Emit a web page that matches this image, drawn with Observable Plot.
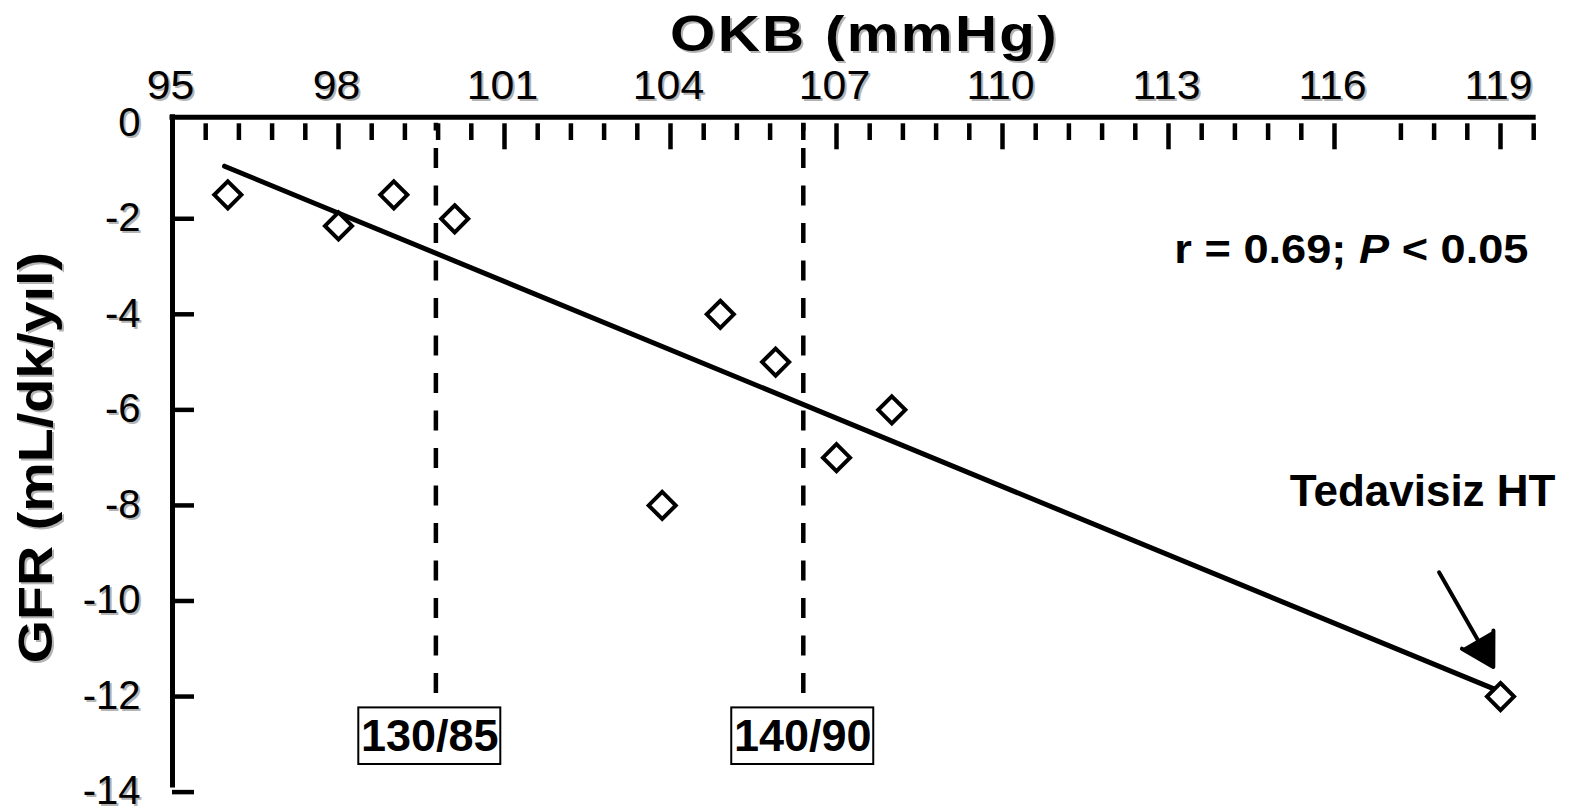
<!DOCTYPE html>
<html><head><meta charset="utf-8">
<script src="https://cdn.jsdelivr.net/npm/d3@7"></script>
<script src="https://cdn.jsdelivr.net/npm/@observablehq/plot@0.6"></script>
<style>body{margin:0;background:#fff;}</style>
</head><body><div id="chart"></div>
<script>
// ---- data ----
const okb = [96, 98, 99, 100.1, 104.9, 105.9, 108, 107, 103.85, 119];
const gfr = [-1.5, -2.15, -1.5, -2, -4, -5, -6, -7, -8, -12];
const fitOkb = [95.94, 118.88];
const fitGfr = [-0.9, -11.84];
const cutoffOkb = [99.76, 106.4];
const cutoffBottom = -12.23;
const cutoffLabels = ["130/85", "140/90"];
const labelOkb = [99.65, 106.39];
const labelGfr = -12.83;
const xTickLabels = [95, 98, 101, 104, 107, 110, 113, 116, 119];
const xMajorTicks = [98, 101, 104, 107, 110, 113, 116, 119];
const xMinorTicks = [95.6, 96.2, 96.8, 97.4, 98.6, 99.2, 99.8, 100.4, 101.6, 102.2, 102.8, 103.4,
  104.6, 105.2, 105.8, 106.4, 107.6, 108.2, 108.8, 109.4, 110.6, 111.2, 111.8, 112.4,
  113.6, 114.2, 114.8, 115.4, 117.2, 117.8, 118.4, 119.6];
const yTickLabels = [0, -2, -4, -6, -8, -10, -12, -14];
const yTickMarks = [-2, -4, -6, -8, -10, -12, -14];
const xAxisExtent = [95, 119.6];
const yAxisExtent = [-13.86, 0.125];
const arrowFrom = [117.89, -9.40];
const arrowTo = [118.87, -11.38];
const title = "OKB (mmHg)";
const yTitle = "GFR (mL/dk/yıl)";
const statText = "r = 0.69; P < 0.05";
const noteText = "Tedavisiz HT";

const points = okb.map((x, i) => ({x, y: gfr[i]}));
const fit = fitOkb.map((x, i) => ({x, y: fitGfr[i]}));
const boxes = cutoffLabels.map((t, i) => ({t, x: labelOkb[i], y: labelGfr}));
const arrowData = [{x1: arrowFrom[0], y1: arrowFrom[1], x2: arrowTo[0], y2: arrowTo[1]}];

const FONT = "'Liberation Sans', Arial, Helvetica, sans-serif";
const shadow = "#b4b4b4";

const chart = Plot.plot({
  width: 1573, height: 809,
  marginLeft: 172, marginRight: 73, marginTop: 122.7, marginBottom: 17.4,
  x: {domain: [95, 119], axis: null},
  y: {domain: [-14, 0], axis: null},
  style: {fontFamily: FONT, background: "white", color: "black", overflow: "visible"},
  marks: [
    // axis lines
    Plot.ruleY([yAxisExtent[1]], {x1: xAxisExtent[0], x2: xAxisExtent[1], strokeWidth: 5, strokeLinecap: "square"}),
    Plot.ruleX([xAxisExtent[0]], {y1: yAxisExtent[0], y2: yAxisExtent[1], strokeWidth: 5, strokeLinecap: "square"}),
    // x ticks (pointing down from the top axis)
    Plot.tickX(xMinorTicks, {x: d => d, strokeWidth: 4.5, insetTop: 0.6, insetBottom: 651.6}),
    Plot.tickX(xMajorTicks, {x: d => d, strokeWidth: 4.5, insetTop: 0.6, insetBottom: 642.3}),
    // y ticks (pointing right)
    Plot.tickY(yTickMarks, {y: d => d, strokeWidth: 4.5, insetLeft: 0, insetRight: 1306}),
    // cutoff dashed lines
    Plot.ruleX(cutoffOkb, {x: d => d, y1: 0, y2: cutoffBottom, strokeWidth: 4.5,
      strokeDasharray: "20 17.5", strokeDashoffset: 12.2}),
    // label boxes
    Plot.rect(boxes, {x1: "x", x2: "x", y1: "y", y2: "y", insetLeft: -71, insetRight: -71,
      insetTop: -28.3, insetBottom: -28.3, fill: "white", stroke: "black", strokeWidth: 2}),
    Plot.text(boxes, {x: "x", y: "y", text: "t", fontSize: 45, fontWeight: "bold"}),
    // regression line
    Plot.line(fit, {x: "x", y: "y", strokeWidth: 5}),
    // points
    Plot.dot(points, {x: "x", y: "y", symbol: "diamond2", r: 12.2, stroke: "black", strokeWidth: 4, fill: "white"}),
    // arrow with a filled head
    Plot.arrow(arrowData, {x1: "x1", y1: "y1", x2: "x2", y2: "y2", stroke: "black", strokeWidth: 4,
      headLength: 14, headAngle: 60, fill: "black", strokeLinejoin: "miter"}),
    // x tick labels (with shadow)
    Plot.text(xTickLabels, {x: d => d, text: d => String(d), frameAnchor: "top", textAnchor: "middle", lineAnchor: "bottom",
      dx: 0, dy: -22.7, fontSize: 40, fill: shadow}),
    Plot.text(xTickLabels, {x: d => d, text: d => String(d), frameAnchor: "top", textAnchor: "middle", lineAnchor: "bottom",
      dx: -2, dy: -24.7, fontSize: 40}),
    // y tick labels (with shadow)
    Plot.text(yTickLabels, {y: d => d, text: d => String(d), frameAnchor: "left", textAnchor: "end",
      dx: -30, dy: 1.5, fontSize: 40, fill: shadow}),
    Plot.text(yTickLabels, {y: d => d, text: d => String(d), frameAnchor: "left", textAnchor: "end",
      dx: -32, dy: -0.5, fontSize: 40}),
    // title
    Plot.text([title], {frameAnchor: "top", textAnchor: "middle", lineAnchor: "bottom", dx: 30, dy: -70.7, fontSize: 50, fontWeight: "bold", fill: shadow}),
    Plot.text([title], {frameAnchor: "top", textAnchor: "middle", lineAnchor: "bottom", dx: 28, dy: -72.7, fontSize: 50, fontWeight: "bold"}),
    // y title
    Plot.text([yTitle], {frameAnchor: "left", textAnchor: "middle", rotate: -90, lineAnchor: "bottom", dx: -118.5, dy: 2, fontSize: 48, fontWeight: "bold", fill: shadow}),
    Plot.text([yTitle], {frameAnchor: "left", textAnchor: "middle", rotate: -90, lineAnchor: "bottom", dx: -120.5, dy: 0, fontSize: 48, fontWeight: "bold"}),
    // annotations
    Plot.text([statText], {frameAnchor: "top-right", textAnchor: "end", lineAnchor: "bottom", dx: 28, dy: 139.3, fontSize: 40, fontWeight: "bold"}),
    Plot.text([noteText], {frameAnchor: "top-right", textAnchor: "end", lineAnchor: "bottom", dx: 55, dy: 382.3, fontSize: 44, fontWeight: "bold"})
  ]
});

document.getElementById("chart").appendChild(chart);

// widen some texts horizontally (the source face is wider than Arial)
function stretch(filterFn, sx, extra) {
  d3.select(chart).selectAll("text").filter(function() { return filterFn(this.textContent); })
    .each(function() {
      let t = this.getAttribute("transform");
      if (!t) {
        const x = +this.getAttribute("x") || 0, y = +this.getAttribute("y") || 0;
        this.removeAttribute("x"); this.removeAttribute("y");
        t = `translate(${x},${y})`;
      }
      this.setAttribute("transform", `${t} scale(${sx},1)`);
      if (extra) extra(this);
    });
}
const xLabelSet = new Set(xTickLabels.map(String));
stretch(s => xLabelSet.has(s), 1.07);
stretch(s => s === title, 1.165, el => el.setAttribute("letter-spacing", "2"));
stretch(s => s === yTitle, 1.16);
stretch(s => s === statText, 1.13, el => {
  const t = d3.select(el);
  t.text(null);
  t.append("tspan").text("r = 0.69; ");
  t.append("tspan").attr("font-style", "italic").text("P");
  t.append("tspan").text(" < 0.05");
});
</script>
</body></html>
